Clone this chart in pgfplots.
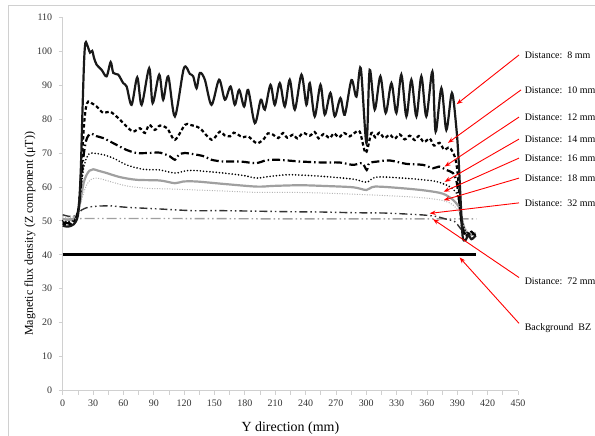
\documentclass[border=0pt]{standalone}
\usepackage{pgfplots}
\pgfplotsset{compat=1.18}
\usepackage{fontspec}
\setmainfont{Liberation Serif}
\usetikzlibrary{arrows.meta}

\definecolor{axgray}{HTML}{D0D0D0}
\definecolor{midgray}{HTML}{A0A0A0}
\definecolor{ltgray}{HTML}{B4B4B4}
\definecolor{dgray}{HTML}{333333}

\begin{document}
\begin{tikzpicture}
% page size of the reference, axis box corner at the origin
\useasboundingbox (-62.7bp,-45.5bp) rectangle (532.3bp,390.5bp);
\draw[axgray, line width=0.75bp] (-54.7bp,-45.5bp) -- (-54.7bp,385.5bp) -- (532.3bp,385.5bp);
\begin{axis}[
    scale only axis,
    width=455.3bp, height=373.2bp,
    xmin=0, xmax=450, ymin=0, ymax=110,
    xtick={0,30,...,450},
    ytick={0,10,...,110},
    minor x tick num=1,
    axis x line*=bottom, axis y line*=left,
    axis line style={axgray, line width=0.75bp, -},
    tick style={axgray, line width=0.75bp},
    tick align=outside,
    major tick length=4bp, minor tick length=4bp,
    /pgf/number format/assume math mode=true,
    ticklabel style={font=\fontsize{10}{12}\selectfont, text=black!80},
    xticklabel style={yshift=-2bp},
    yticklabel style={xshift=-3bp},
    xlabel={Y direction (mm)},
    ylabel={Magnetic flux density (Z component (μT))},
    every axis x label/.style={at={(axis description cs:0.5,-0.1013)}, anchor=center, font=\fontsize{14}{16}\selectfont},
    every axis y label/.style={at={(axis description cs:-0.0718,0.42)}, anchor=center, rotate=90, font=\fontsize{12}{14}\selectfont},
    clip=false,
]
% Background BZ
\addplot[black, line width=3bp] coordinates {(0,40) (408.8,40)};
% 72 mm
\addplot[midgray, line width=1.4bp, dash pattern=on 10bp off 3bp on 1.5bp off 3bp on 1.5bp off 3bp] coordinates {
(0,50.5) (10,50.6) (20,50.7) (100,50.7) (200,50.6) (300,50.6) (408.8,50.6)};
% 32 mm
\addplot[dgray, line width=1.4bp, smooth, dash pattern=on 8bp off 3bp on 1.5bp off 3bp on 1.5bp off 3bp] coordinates {
(0,51.8) (5,51.4) (10,51.3) (14,51.8) (18.7,53.2) (25,54.0) (33,54.3) (40.1,54.4) (48.4,54.4) (63.2,54.0) (96.1,53.5) (129,53.0) (158.6,53.0) (224.4,52.7) (257.3,52.6) (287,52.4) (318.7,52.3) (352.8,51.8) (364.4,51.5) (369.3,51.3) (379.2,50.5) (387.4,49.8) (392,48.2) (396,46.8) (401,46.2) (408,46.4)};
% 18 mm
\addplot[ltgray, line width=1bp, smooth, dash pattern=on 1bp off 1.5bp] coordinates {
(0,51.2) (5,51) (10,51.2) (13,51.8) (15,52.8) (18,55.5) (21,58.5) (24,60.8) (28,62.2) (33.6,62.6) (40,62.2) (46.7,61.6) (63.2,60.3) (82.9,59.6) (106,59.4) (132.3,59.1) (158.6,58.8) (191.6,58.4) (224.4,58.4) (257.3,58.2) (300.2,57.7) (336.3,57.2) (359.4,56.7) (375.8,56.0) (385.7,54.7) (392.3,52.3) (396,49) (400,47) (404,46.3) (408,46.8)};
% 16 mm
\addplot[midgray, line width=2.2bp, smooth] coordinates {
(0,50.6) (5,50.3) (10,50.5) (13,51.3) (15,52.5) (17,55) (19,58.5) (21,61.5) (23.5,63.5) (26.5,64.8) (30.2,65.2) (35,64.8) (43.4,64.1) (56.6,62.9) (73.1,62.1) (96.1,61.9) (110.9,61.1) (119.1,61.6) (132.3,61.6) (158.6,60.9) (191.6,60.1) (208,60.3) (234.3,60.5) (257.3,60.3) (287,59.9) (300.2,59.1) (308.6,60.1) (336.3,59.6) (359.4,58.9) (375.8,58.0) (385.7,56.2) (392.3,53.7) (395,50) (398,47) (403,45.8) (408,46.4)};
% 14 mm
\addplot[black, line width=1.8bp, smooth, line cap=round, dash pattern=on 0bp off 3.2bp] coordinates {
(0,50.0) (5,49.8) (10,50) (13,51) (15,53) (17,57) (19,62) (21,66) (23.5,68.5) (26,69.7) (28.6,70.0) (34,69.8) (40.1,69.5) (50,68.5) (63.2,66.5) (79.6,65.2) (96.1,65.0) (110.9,64.1) (122.4,64.8) (132.3,64.8) (158.6,64.1) (180,63.3) (191.6,62.6) (204.7,63.1) (224.4,63.6) (257.3,63.1) (287,62.3) (300.2,61.4) (310,62.9) (336.3,62.6) (356.1,62.1) (369.3,61.6) (382.4,60.1) (389,58.2) (392,55) (395,50) (398,47) (403,46) (408,46.5)};
% 12 mm
\addplot[black, line width=2.2bp, smooth, dash pattern=on 8bp off 3bp on 1.5bp off 3bp] coordinates {
(0,49.6) (5,49.3) (10,49.6) (13,50.5) (15,52.5) (17,57) (19,64) (21,70) (23,73.5) (25.3,75.1) (28.6,75.7) (33,75) (40.1,74.4) (50,72.9) (63.2,70.9) (73.1,70.0) (84.5,70.0) (96.1,70.1) (106,69.0) (110.9,68.0) (115,69.5) (120.8,70.0) (132.3,69.5) (140,69) (147.1,68.0) (158.6,67.5) (175.1,67.5) (191.6,67.0) (200,67.8) (212.9,68.0) (234.3,67.5) (257.3,67.2) (273.8,67.2) (287,66.5) (296,67) (300.5,65.0) (303,67) (311.6,67.5) (323.2,67.8) (339.7,66.8) (356.1,66.5) (366,65.5) (372,66) (379.2,65.0) (385.7,64.1) (389,62) (391,58) (393,53) (395,48) (398,46) (403,46.5) (408,45.8)};
% 10 mm
\addplot[black, line width=2.2bp, smooth, dash pattern=on 3.5bp off 2.5bp] coordinates {
(0,49.2) (4,48.8) (8,49.0) (11,49.5) (13,50.3) (15,52.5) (17,58) (19,68) (21,78) (23,83.5) (25.3,85.2) (28,84.8) (33.6,83.7) (40.1,81.8) (46.7,82.2) (54.9,80.3) (63.2,77.8) (69.7,76.3) (76.3,77.3) (81.3,75.9) (85.5,78.3) (91.1,76.8) (96.1,78.1) (103.3,77.3) (110.9,73.9) (120.8,78.3) (125.7,78.3) (135.6,77.3) (147.1,73.9) (155.3,76.3) (160,75.2) (165.2,74.9) (169,76) (173.4,75.4) (178,74.6) (183.3,74.9) (191.6,72.9) (198.1,73.9) (203,75.8) (208,75.4) (213,74.4) (217.8,75.9) (222,74.5) (227.7,75.4) (232,74.3) (237.6,75.9) (244.2,75.1) (249,76.2) (253,74.3) (258,75.6) (263.9,74.4) (268,75.8) (273,74.6) (278,75.9) (283.7,74.9) (288,75.8) (293.6,76.3) (299.5,70.0) (305.1,75.9) (309,74.6) (313,76) (318,74.4) (323.2,75.4) (328,74.2) (333,75.5) (338,74.0) (343,75.1) (348,73.8) (352,75.0) (357,73.2) (362.7,74.3) (367,72.2) (372.6,73.0) (377,71.0) (382.4,71.6) (387.4,69.0) (390,65) (392,58) (394,50) (396,46) (400,45.8) (404,46.8) (408,45.3)};
% 8 mm
\addplot[black!90, line width=2.2bp, smooth] coordinates {
(0,48.6) (4,48.3) (8,48.5) (11,49.0) (13,49.8) (15,51.5) (16.5,56) (18,66) (19.5,82) (21,96) (22,101.5) (23,102.7) (25,101.2) (27,99.6) (29.2,100.1) (31,98) (33.6,96.0) (38.5,94.5) (43.4,92.6) (47.4,96.8) (50,93.6) (54.9,93.1) (59.8,90.6) (63.2,89.6) (68.1,84.2) (73.7,92.3) (78,84.2) (85.5,95.0) (88.9,84.7) (95.4,93.1) (99.3,85.7) (104.3,92.6) (110.9,80.8) (119.8,95.0) (125.7,93.3) (129,92.6) (132.3,89.1) (135.6,93.6) (140.5,91.6) (147.1,84.2) (154.6,91.6) (160.3,85.7) (165.9,89.6) (170.1,84.2) (174.4,88.6) (179.3,83.7) (183.3,88.6) (189.9,78.8) (195.8,85.7) (199.8,82.8) (205.4,90.1) (209.6,84.2) (214.6,90.6) (219.5,83.7) (224.4,91.6) (229.4,82.8) (236,93.1) (240.9,84.2) (244.2,90.6) (249.1,80.8) (254.8,90.1) (259,81.3) (264.6,87.7) (268.9,80.8) (274.5,86.2) (278.8,81.3) (285.4,91.5) (290.3,86.6) (294.6,95.0) (300.2,72.9) (303.4,94.5) (308.4,82.8) (314,92.6) (319.2,81.8) (324.9,90.6) (329.8,81.8) (334.7,93.1) (339.7,80.8) (344.6,91.6) (349.6,80.8) (354.5,92.6) (359.4,80.8) (365.4,94.0) (368.6,76.3) (374.3,89.1) (379.2,76.8) (384.7,87.7) (389.1,77.3) (391.3,68) (393.3,56) (395.3,45.4) (398,44.3) (401,45.8) (404,44.6) (408,45.6)};
% annotations
\begin{scope}[red, line width=0.9bp, -{Stealth[length=6bp,width=4.5bp]}]
\draw (axis cs:451,98.9) -- (axis cs:389.4,84.4);
\draw (axis cs:453,88.6) -- (axis cs:380.8,73.0);
\draw (axis cs:451,80.6) -- (axis cs:377.5,66.0);
\draw (axis cs:451,74.1) -- (axis cs:377.5,61.5);
\draw (axis cs:451,68.5) -- (axis cs:376.5,58.6);
\draw (axis cs:451,62.6) -- (axis cs:376.5,56.1);
\draw (axis cs:451,55.3) -- (axis cs:362.7,52.2);
\draw (axis cs:451,33.3) -- (axis cs:366,50.5);
\draw (axis cs:451,19.8) -- (axis cs:392.3,39.2);
\end{scope}
\begin{scope}[every node/.style={anchor=west, font=\fontsize{10}{12}\selectfont, inner sep=0pt}]
\node at (axis cs:456.5,98.9) {Distance:\ \ 8 mm};
\node at (axis cs:456.5,88.6) {Distance:\ \ 10 mm};
\node at (axis cs:456.5,80.6) {Distance:\ \ 12 mm};
\node at (axis cs:456.5,74.1) {Distance:\ \ 14 mm};
\node at (axis cs:456.5,68.5) {Distance:\ \ 16 mm};
\node at (axis cs:456.5,62.6) {Distance:\ \ 18 mm};
\node at (axis cs:456.5,55.3) {Distance:\ \ 32 mm};
\node at (axis cs:456.5,32.3) {Distance:\ \ 72 mm};
\node at (axis cs:456.5,18.4) {Background\ \ BZ};
\end{scope}
\end{axis}
\end{tikzpicture}
\end{document}
